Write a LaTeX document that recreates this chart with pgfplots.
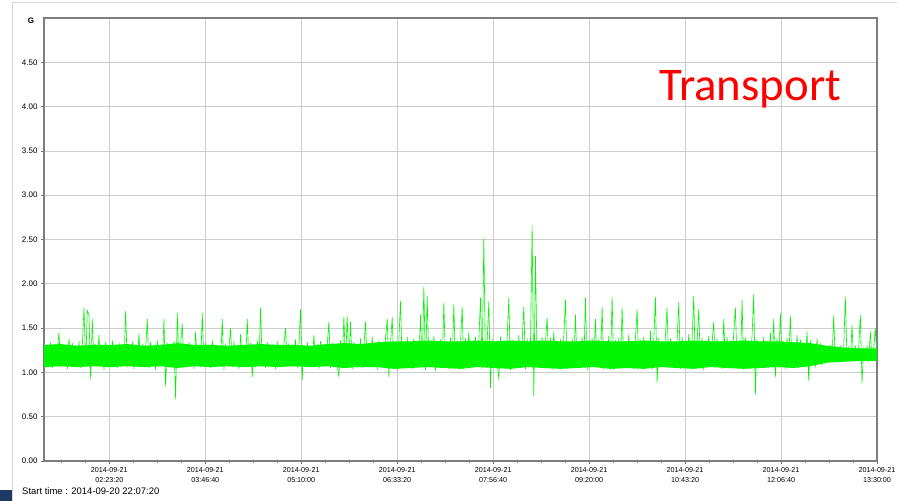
\documentclass[border=0pt]{standalone}
\usepackage{pgfplots}
\pgfplotsset{compat=1.18}
\usepackage{fontspec}
\setmainfont{Liberation Sans}
\newfontfamily\calib{Carlito}
\definecolor{gridgray}{RGB}{205,205,205}
\definecolor{axgray}{RGB}{125,125,125}
\definecolor{lime}{RGB}{0,245,0}
\definecolor{navyblk}{RGB}{31,56,100}
\definecolor{framegray}{RGB}{215,215,215}
\begin{document}
\begin{tikzpicture}
\useasboundingbox (0,0) rectangle (897bp,501bp);
\fill[white] (0,0) rectangle (897bp,501bp);
\draw[framegray, line width=1pt] (12bp,0) -- (12bp,498bp) -- (897bp,498bp);
\fill[navyblk] (0,0) rectangle (12bp,11bp);
\begin{axis}[
  at={(44bp,40bp)}, anchor=south west,
  scale only axis, width=833bp, height=443bp,
  xmin=0, xmax=500, ymin=0, ymax=5,
  xtick={39.2,96.8,154.4,212,269.6,327.2,384.8,442.4,500},
  xticklabels={{2014-09-21\\02:23:20},{2014-09-21\\03:46:40},{2014-09-21\\05:10:00},{2014-09-21\\06:33:20},{2014-09-21\\07:56:40},{2014-09-21\\09:20:00},{2014-09-21\\10:43:20},{2014-09-21\\12:06:40},{2014-09-21\\13:30:00}},
  xticklabel style={align=center, font=\fontsize{7.2}{10.5}\selectfont},
  minor xtick={10.4,24.8,53.6,68,82.4,111.2,125.6,140,168.8,183.2,197.6,226.4,240.8,255.2,284,298.4,312.8,341.6,356,370.4,399.2,413.6,428,456.8,471.2,485.6},
  ytick={0,0.5,1,1.5,2,2.5,3,3.5,4,4.5},
  /pgf/number format/assume math mode=true,
  yticklabel style={font=\fontsize{8}{9}\selectfont, /pgf/number format/fixed, /pgf/number format/fixed zerofill, /pgf/number format/precision=2},
  xmajorgrids, ymajorgrids,
  major grid style={gridgray, line width=0.7pt},
  axis line style={axgray, line width=1.2pt},
  tick align=outside, tick style={axgray, line width=0.6pt},
  major tick length=3bp, minor tick length=2.5bp,
  xtick pos=left, ytick pos=left,
]
% dense core of the band (upper edge left to right, lower edge right to left)
\addplot[fill=lime, draw=none] coordinates {
(0,1.31)(10,1.32)(20,1.30)(30,1.31)(40,1.31)(50,1.32)(60,1.30)(70,1.31)(80,1.33)(90,1.31)
(100,1.31)(110,1.30)(120,1.31)(130,1.32)(140,1.31)(150,1.31)(160,1.30)(170,1.32)(180,1.33)(190,1.32)
(200,1.34)(210,1.35)(220,1.35)(230,1.36)(240,1.35)(250,1.35)(260,1.36)(270,1.35)(280,1.36)(290,1.35)
(300,1.36)(310,1.35)(320,1.35)(330,1.36)(340,1.35)(350,1.35)(360,1.36)(370,1.35)(380,1.35)(390,1.36)
(400,1.35)(410,1.35)(420,1.36)(430,1.35)(440,1.35)(450,1.34)(460,1.33)(470,1.30)(480,1.28)(490,1.27)(500,1.27)
(500,1.13)(490,1.13)(480,1.12)(470,1.11)(460,1.07)(450,1.05)(440,1.06)(430,1.05)(420,1.04)(410,1.05)
(400,1.06)(390,1.04)(380,1.05)(370,1.06)(360,1.04)(350,1.05)(340,1.04)(330,1.06)(320,1.05)(310,1.04)
(300,1.05)(290,1.06)(280,1.04)(270,1.05)(260,1.06)(250,1.04)(240,1.05)(230,1.06)(220,1.05)(210,1.04)
(200,1.06)(190,1.06)(180,1.05)(170,1.07)(160,1.06)(150,1.07)(140,1.06)(130,1.07)(120,1.06)(110,1.07)
(100,1.06)(90,1.07)(80,1.05)(70,1.07)(60,1.06)(50,1.07)(40,1.06)(30,1.07)(20,1.06)(10,1.07)(0,1.06)
} -- cycle;
\addplot[lime, line width=0.6pt, line join=round] coordinates {
(0,1.30)(1,1.08)(2,1.27)(3,1.12)(4,1.34)(5,1.05)(6,1.29)(7,1.10)(8,1.25)(9,1.45)
(10,1.06)(11,1.31)(12,1.09)(13,1.28)(14,1.04)(15,1.38)(16,1.11)(17,1.33)(18,1.07)(19,1.27)
(20,1.10)(21,1.35)(22,1.05)(23,1.30)(24,1.73)(25,1.08)(26,1.70)(27,1.65)(28,0.92)(29,1.60)
(30,1.09)(31,1.32)(32,1.12)(33,1.42)(34,1.06)(35,1.29)(36,1.03)(37,1.34)(38,1.10)(39,1.27)
(40,1.07)(41,1.36)(42,1.11)(43,1.30)(44,1.05)(45,1.33)(46,1.08)(47,1.26)(48,1.12)(49,1.69)
(50,1.06)(51,1.31)(52,1.09)(53,1.35)(54,1.04)(55,1.28)(56,1.10)(57,1.44)(58,1.07)(59,1.32)
(60,1.12)(61,1.27)(62,1.60)(63,1.05)(64,1.34)(65,1.09)(66,1.30)(67,1.03)(68,1.36)(69,1.11)
(70,1.29)(71,1.08)(72,1.60)(73,0.84)(74,1.33)(75,1.10)(76,1.27)(77,1.06)(78,1.35)(79,0.70)
(80,1.67)(81,1.09)(82,1.31)(83,1.55)(84,1.05)(85,1.28)(86,1.12)(87,1.34)(88,1.07)(89,1.30)
(90,1.04)(91,1.46)(92,1.10)(93,1.27)(94,1.06)(95,1.67)(96,1.08)(97,1.33)(98,1.11)(99,1.29)
(100,1.05)(101,1.36)(102,1.09)(103,1.30)(104,1.12)(105,1.26)(106,1.07)(107,1.60)(108,1.03)(109,1.32)
(110,1.10)(111,1.28)(112,1.50)(113,1.06)(114,1.35)(115,1.09)(116,1.31)(117,1.04)(118,1.43)(119,1.11)
(120,1.27)(121,1.08)(122,1.60)(123,1.12)(124,1.33)(125,0.95)(126,1.29)(127,1.06)(128,1.36)(129,1.10)
(130,1.73)(131,1.07)(132,1.30)(133,1.05)(134,1.34)(135,1.11)(136,1.27)(137,1.08)(138,1.32)(139,1.04)
(140,1.35)(141,1.10)(142,1.28)(143,1.06)(144,1.31)(145,1.50)(146,1.09)(147,1.33)(148,1.12)(149,1.26)
(150,1.07)(151,1.37)(152,1.05)(153,1.30)(154,1.71)(155,0.92)(156,1.29)(157,1.08)(158,1.34)(159,1.11)
(160,1.27)(161,1.06)(162,1.42)(163,1.09)(164,1.32)(165,1.04)(166,1.35)(167,1.10)(168,1.28)(169,1.07)
(170,1.31)(171,1.57)(172,1.05)(173,1.33)(174,1.12)(175,1.27)(176,1.08)(177,0.95)(178,1.36)(179,1.06)
(180,1.63)(181,1.09)(182,1.63)(183,1.11)(184,1.57)(185,1.04)(186,1.34)(187,1.10)(188,1.30)(189,1.07)
(190,1.38)(191,1.05)(192,1.29)(193,1.57)(194,1.08)(195,1.33)(196,1.12)(197,1.40)(198,1.06)(199,1.31)
(200,1.03)(201,1.36)(202,1.10)(203,1.28)(204,1.05)(205,1.39)(206,1.60)(207,0.95)(208,1.34)(209,1.62)
(210,1.07)(211,1.31)(212,1.02)(213,1.37)(214,1.80)(215,1.09)(216,1.33)(217,1.05)(218,1.40)(219,1.11)
(220,1.29)(221,1.04)(222,1.38)(223,1.08)(224,1.34)(225,1.12)(226,1.65)(227,1.06)(228,1.97)(229,1.03)
(230,1.86)(231,1.10)(232,1.35)(233,1.07)(234,1.41)(235,1.02)(236,1.32)(237,1.09)(238,1.37)(239,1.05)
(240,1.79)(241,1.11)(242,1.30)(243,1.04)(244,1.39)(245,1.08)(246,1.77)(247,1.06)(248,1.36)(249,1.12)
(250,1.33)(251,1.74)(252,1.03)(253,1.38)(254,1.09)(255,1.45)(256,1.05)(257,1.31)(258,1.10)(259,1.40)
(260,1.07)(261,1.36)(262,1.84)(263,1.04)(264,2.52)(265,1.09)(266,1.35)(267,1.80)(268,0.83)(269,1.38)
(270,1.06)(271,1.33)(272,1.11)(273,0.92)(274,1.40)(275,1.05)(276,1.34)(277,1.08)(278,1.39)(279,1.84)
(280,1.03)(281,1.37)(282,1.10)(283,1.31)(284,1.06)(285,1.42)(286,1.08)(287,1.35)(288,1.74)(289,1.04)
(290,1.38)(291,1.09)(292,1.33)(293,2.66)(294,0.73)(295,2.31)(296,1.07)(297,1.36)(298,1.11)(299,1.40)
(300,1.05)(301,1.34)(302,1.62)(303,1.08)(304,1.39)(305,1.03)(306,1.46)(307,1.10)(308,1.32)(309,1.06)
(310,1.37)(311,1.09)(312,1.41)(313,1.82)(314,1.04)(315,1.35)(316,1.11)(317,1.38)(318,1.07)(319,1.65)
(320,1.05)(321,1.33)(322,1.10)(323,1.40)(324,1.06)(325,1.84)(326,1.02)(327,1.36)(328,1.09)(329,1.39)
(330,1.12)(331,1.60)(332,1.05)(333,1.37)(334,1.08)(335,1.74)(336,1.04)(337,1.34)(338,1.10)(339,1.41)
(340,1.07)(341,1.85)(342,1.03)(343,1.36)(344,1.11)(345,1.39)(346,1.06)(347,1.73)(348,1.09)(349,1.35)
(350,1.05)(351,1.42)(352,1.10)(353,1.33)(354,1.04)(355,1.38)(356,1.71)(357,1.08)(358,1.36)(359,1.12)
(360,1.40)(361,1.06)(362,1.34)(363,1.09)(364,1.47)(365,1.03)(366,1.37)(367,1.85)(368,0.88)(369,1.39)
(370,1.07)(371,1.35)(372,1.11)(373,1.41)(374,1.73)(375,1.05)(376,1.38)(377,1.08)(378,1.33)(379,1.10)
(380,1.36)(381,1.79)(382,1.04)(383,1.40)(384,1.09)(385,1.35)(386,1.06)(387,1.43)(388,1.12)(389,1.37)
(390,1.86)(391,1.05)(392,1.34)(393,1.71)(394,1.08)(395,1.39)(396,1.03)(397,1.36)(398,1.10)(399,1.41)
(400,1.07)(401,1.33)(402,1.57)(403,1.06)(404,1.38)(405,1.11)(406,1.35)(407,1.04)(408,1.60)(409,1.09)
(410,1.40)(411,1.05)(412,1.36)(413,1.08)(414,1.44)(415,1.73)(416,1.10)(417,1.34)(418,1.06)(419,1.82)
(420,1.04)(421,1.39)(422,1.09)(423,1.35)(424,1.12)(425,1.41)(426,1.88)(427,0.75)(428,1.37)(429,1.07)
(430,1.33)(431,1.10)(432,1.40)(433,1.05)(434,1.36)(435,1.08)(436,1.45)(437,1.11)(438,1.60)(439,0.95)
(440,1.38)(441,1.06)(442,1.67)(443,1.09)(444,1.35)(445,1.04)(446,1.39)(447,1.12)(448,1.64)(449,1.07)
(450,1.34)(451,1.10)(452,1.42)(453,1.05)(454,1.37)(455,1.08)(456,1.33)(457,1.11)(458,1.46)(459,0.91)
(460,1.36)(461,1.09)(462,1.31)(463,1.06)(464,1.38)(465,1.12)(466,1.33)(467,1.08)(468,1.30)(469,1.10)
(470,1.29)(471,1.12)(472,1.31)(473,1.14)(474,1.64)(475,1.11)(476,1.28)(477,1.13)(478,1.30)(479,1.12)
(480,1.27)(481,1.85)(482,1.14)(483,1.29)(484,1.12)(485,1.53)(486,1.13)(487,1.30)(488,1.15)(489,1.27)
(490,1.65)(491,0.88)(492,1.28)(493,1.14)(494,1.30)(495,1.12)(496,1.46)(497,1.15)(498,1.27)(499,1.50)
(500,1.13)
};
\end{axis}
\node[anchor=base west, inner sep=0, text=red, font=\calib\fontsize{47}{47}\selectfont] at (659bp,400bp) {Transport};
\node[font=\bfseries\fontsize{8}{8}\selectfont, inner sep=0] at (31bp,480bp) {G};
\node[anchor=west, inner sep=0, font=\fontsize{9.5}{10}\selectfont] at (22bp,10bp) {Start time : 2014-09-20 22:07:20};
\end{tikzpicture}
\end{document}
